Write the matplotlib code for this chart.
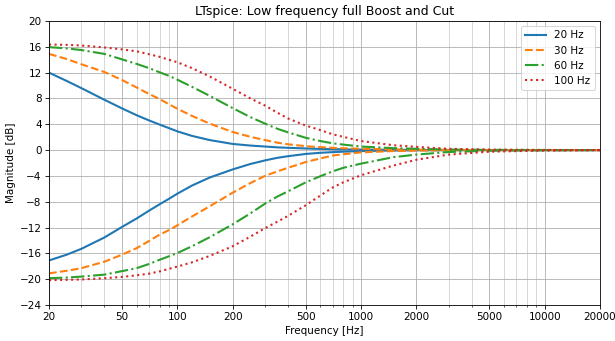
import numpy as np
import matplotlib
matplotlib.use('Agg')
import matplotlib.pyplot as plt

freq = [20, 25, 30, 40, 50, 60, 70, 80, 90, 100, 120, 150, 200, 250, 300, 350, 400,
        500, 600, 700, 800, 1000, 1500, 2000, 3000, 5000, 10000, 20000]

boost_20 = [12.0, 10.7, 9.6, 7.8, 6.45, 5.4, 4.6, 3.95, 3.4, 2.9, 2.2, 1.55, 0.95, 0.7, 0.55, 0.42, 0.35,
            0.25, 0.18, 0.14, 0.11, 0.07, 0.03, 0.02, 0.01, 0.0, 0.0, 0.0]
boost_30 = [14.9, 14.1, 13.3, 12.1, 10.85, 9.7, 8.7, 7.9, 7.1, 6.4, 5.3, 4.1, 2.8, 2.05, 1.55, 1.15, 0.9,
            0.6, 0.45, 0.35, 0.28, 0.2, 0.1, 0.06, 0.02, 0.01, 0.0, 0.0]
boost_60 = [15.95, 15.75, 15.5, 14.9, 14.05, 13.35, 12.7, 12.05, 11.5, 10.9, 9.8, 8.4, 6.5, 5.1, 4.1, 3.3, 2.75,
            1.9, 1.4, 1.05, 0.85, 0.55, 0.3, 0.2, 0.08, 0.03, 0.01, 0.0]
boost_100 = [16.35, 16.3, 16.2, 15.9, 15.6, 15.3, 14.85, 14.45, 14.0, 13.6, 12.7, 11.4, 9.5, 8.0, 6.9, 5.8, 4.9,
             3.8, 3.1, 2.45, 2.05, 1.4, 0.75, 0.5, 0.2, 0.07, 0.02, 0.0]

cut_20 = [-17.1, -16.2, -15.3, -13.55, -11.9, -10.6, -9.4, -8.4, -7.55, -6.75, -5.5, -4.25, -3.0, -2.15, -1.6, -1.2, -0.95,
          -0.6, -0.42, -0.32, -0.25, -0.15, -0.07, -0.04, -0.02, 0.0, 0.0, 0.0]
cut_30 = [-19.1, -18.7, -18.3, -17.3, -16.2, -15.2, -14.1, -13.1, -12.4, -11.65, -10.3, -8.7, -6.6, -5.1, -4.0, -3.3, -2.75,
          -1.85, -1.3, -0.85, -0.65, -0.35, -0.15, -0.08, -0.03, -0.01, 0.0, 0.0]
cut_60 = [-19.85, -19.75, -19.6, -19.3, -18.75, -18.3, -17.65, -17.0, -16.45, -15.95, -14.9, -13.5, -11.5, -9.8, -8.3, -7.2, -6.4,
          -5.0, -4.05, -3.3, -2.75, -2.1, -1.1, -0.7, -0.3, -0.1, -0.03, 0.0]
cut_100 = [-20.15, -20.1, -20.05, -19.85, -19.65, -19.4, -19.15, -18.8, -18.4, -18.05, -17.4, -16.4, -14.9, -13.4, -12.1, -11.1, -10.2,
           -8.55, -7.05, -5.8, -5.0, -3.9, -2.4, -1.5, -0.7, -0.25, -0.07, 0.0]

series = [
    ('20 Hz', boost_20, cut_20, '-', '#1f77b4'),
    ('30 Hz', boost_30, cut_30, '--', '#ff7f0e'),
    ('60 Hz', boost_60, cut_60, '-.', '#2ca02c'),
    ('100 Hz', boost_100, cut_100, ':', '#d62728'),
]

xticks = [20, 50, 100, 200, 500, 1000, 2000, 5000, 10000, 20000]
yticks = list(range(-24, 21, 4))


def main():
    fig = plt.figure(figsize=(8.2, 4.547), dpi=75)
    ax = fig.add_axes([0.0797, 0.1056, 0.8959, 0.8328])
    for name, b, c, ls, col in series:
        ax.semilogx(freq, b, ls, color=col, lw=2, label=name)
        ax.semilogx(freq, c, ls, color=col, lw=2)
    ax.set_xlim(20, 20000)
    ax.set_ylim(-24, 20)
    ax.set_xticks(xticks)
    ax.set_xticklabels([str(t) for t in xticks])
    ax.set_yticks(yticks)
    ax.grid(True, which='major', color='#b0b0b0', lw=0.8)
    ax.grid(True, which='minor', color='#b0b0b0', lw=0.8, alpha=0.6)
    ax.set_xlabel('Frequency [Hz]')
    ax.set_ylabel('Magnitude [dB]')
    ax.set_title('LTspice: Low frequency full Boost and Cut')
    ax.legend(loc='upper right')
    fig.savefig('out.png', dpi=75)


if __name__ == '__main__':
    main()
